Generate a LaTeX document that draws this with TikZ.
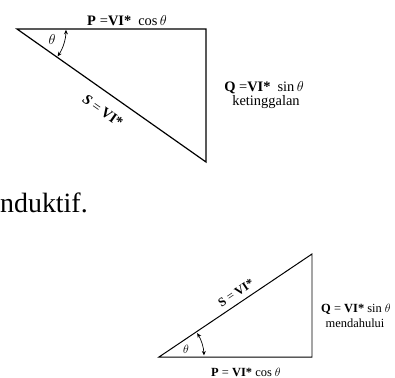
\documentclass[tikz,border=0pt]{standalone}
\usepackage{fontspec}
\setmainfont{Liberation Serif}
\usetikzlibrary{arrows.meta,calc}
\begin{document}
\begin{tikzpicture}[x=1bp,y=1bp,
  tri/.style={line width=1.2pt,line join=miter},
  arcarrow/.style={line width=0.7pt,{Stealth[length=4.5pt,width=4pt]}-{Stealth[length=4.5pt,width=4pt]}},
  lbl/.style={inner sep=0pt,font=\fontsize{14.5}{17}\selectfont},
  slbl/.style={inner sep=0pt,font=\fontsize{12.5}{15}\selectfont}]
\useasboundingbox (0,0) rectangle (395,-378);
% top triangle
\coordinate (A) at (17,-29);
\coordinate (B) at (206,-29);
\coordinate (C) at (206,-162);
\draw[tri] (A) -- (B) -- (C) -- cycle;
\draw[arcarrow] ($(A)+(-1:49)$) arc[start angle=-1,end angle=-34,radius=49];
\node[lbl] (t1) at (52,-40) {$\theta$};
\node[lbl,anchor=base] (p1) at (127,-25) {\textbf{P}\hspace{4pt}=\textbf{VI*}\hspace{7pt}cos\,$\theta$};
\node[lbl,anchor=base] (q1) at (264,-91) {\textbf{Q} =\textbf{VI*}\hspace{7pt}sin\,$\theta$};
\node[lbl,anchor=base] (k1) at (266,-105) {ketinggalan};
\node[lbl,rotate=-35.1] (s1) at (103,-111) {\textbf{\textit{S}}\hspace{3pt}=\hspace{3pt}\textbf{VI*}};
% text
\node[anchor=base west,inner sep=0pt,font=\fontsize{28}{32}\selectfont] (nd) at (0,-212) {nduktif.};
% bottom triangle
\coordinate (D) at (159,-357);
\coordinate (E) at (312,-357);
\coordinate (F) at (312,-254);
\draw[tri,line width=1pt] (D) -- (E) -- (F) -- cycle;
\draw[arcarrow] ($(D)+(32:45)$) arc[start angle=32,end angle=2,radius=45];
\node[slbl] (t2) at (186,-349) {$\theta$};
\node[slbl,anchor=base] (p2) at (246,-376) {\textbf{P} = \textbf{VI*} cos $\theta$};
\node[slbl,anchor=base] (q2) at (356,-312) {\textbf{Q} = \textbf{VI*} sin $\theta$};
\node[slbl,anchor=base] (m2) at (355,-327) {mendahului};
\node[slbl,rotate=34] (s2) at (236,-293) {\textbf{S}\hspace{3pt}=\hspace{3pt}\textbf{VI*}};
\end{tikzpicture}
\end{document}
